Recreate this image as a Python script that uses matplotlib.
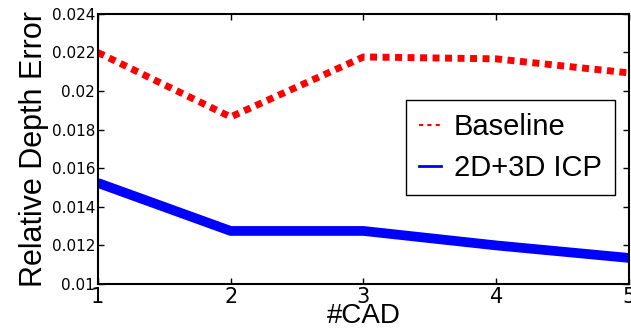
import matplotlib
matplotlib.use("Agg")
import matplotlib.pyplot as plt
from matplotlib.lines import Line2D

num_cad = [1, 2, 3, 4, 5]
baseline = [0.0220, 0.01866, 0.02177, 0.02167, 0.02094]
icp = [0.01524, 0.01275, 0.01275, 0.0120, 0.01135]
y_ticks = [0.01, 0.012, 0.014, 0.016, 0.018, 0.02, 0.022, 0.024]
y_tick_labels = ["0.01", "0.012", "0.014", "0.016", "0.018", "0.02", "0.022", "0.024"]

fig = plt.figure(figsize=(6.31, 3.31), dpi=100)
ax = fig.add_axes([0.155, 0.142, 0.842, 0.816])

ax.plot(num_cad, baseline, color="#ff0000", linewidth=5, linestyle=(0, (1.0, 0.8)), solid_capstyle="butt")
ax.plot(num_cad, icp, color="#0000ff", linewidth=7, solid_capstyle="butt")

ax.set_xlim(1, 5)
ax.set_ylim(0.01, 0.024)
ax.set_xticks(num_cad)
ax.set_xticklabels([str(v) for v in num_cad], fontsize=15, family="DejaVu Sans")
ax.set_yticks(y_ticks)
ax.set_yticklabels(y_tick_labels, fontsize=11, family="DejaVu Sans")
ax.tick_params(direction="in", length=4, width=1, top=True, right=True, pad=2)
for s in ax.spines.values():
    s.set_linewidth(1.5)

ax.set_xlabel("#CAD", fontsize=20, family="Liberation Sans", labelpad=-3)
ax.set_ylabel("Relative Depth Error", fontsize=22, family="Liberation Sans", labelpad=2)

handles = [Line2D([], [], color="#ff0000", linestyle=(0, (2, 2)), linewidth=1.5),
           Line2D([], [], color="#0000ff", linewidth=2)]
leg = ax.legend(handles, ["Baseline", "2D+3D ICP"], loc="upper left",
                bbox_to_anchor=(0.58, 0.681), prop={"family": "Liberation Sans", "size": 21},
                fancybox=False, edgecolor="black", framealpha=1, handlelength=0.75,
                handletextpad=0.45, borderpad=0.45, labelspacing=0.45, borderaxespad=0)
leg.get_frame().set_linewidth(1)

fig.savefig("out.png", dpi=100)
